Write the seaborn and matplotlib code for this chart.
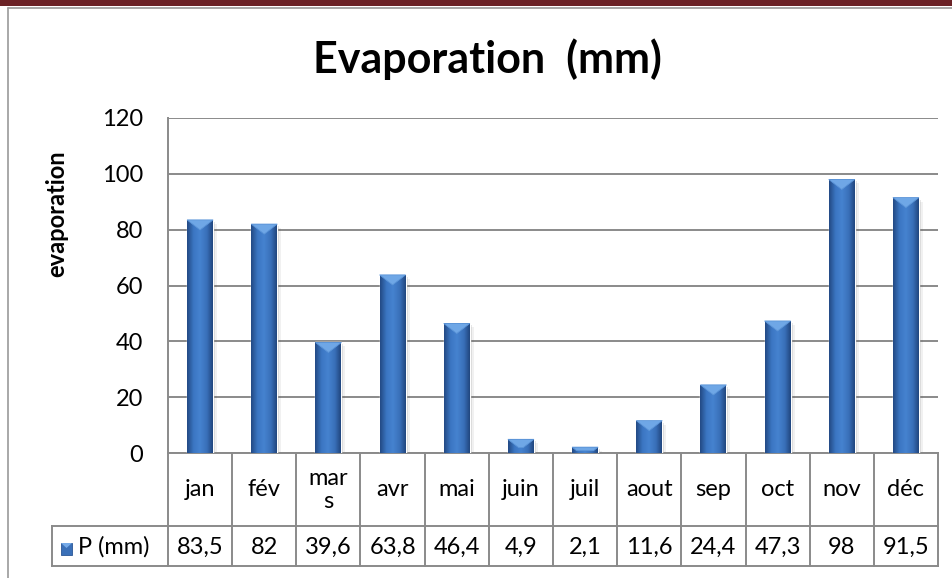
import numpy as np
import pandas as pd
import matplotlib
matplotlib.use("Agg")
import matplotlib.pyplot as plt
import matplotlib.transforms as mtransforms
from matplotlib.patches import Polygon, Rectangle
from matplotlib.colors import LinearSegmentedColormap
from matplotlib.lines import Line2D
import seaborn as sns

# ---- data -------------------------------------------------------------
months = ["jan", "fév", "mars", "avr", "mai", "juin",
          "juil", "aout", "sep", "oct", "nov", "déc"]
month_labels = ["jan", "fév", "mar\ns", "avr", "mai", "juin",
                "juil", "aout", "sep", "oct", "nov", "déc"]
evaporation = [83.5, 82, 39.6, 63.8, 46.4, 4.9, 2.1, 11.6, 24.4, 47.3, 98, 91.5]
y_ticks = [0, 20, 40, 60, 80, 100, 120]
series_name = "P (mm)"
chart_title = "Evaporation  (mm)"
y_title = "evaporation"

value_labels = [f"{v:g}".replace(".", ",") for v in evaporation]

# ---- style ------------------------------------------------------------
sns.set_theme(style="white")
plt.rcParams["font.family"] = ["Lato", "DejaVu Sans"]
plt.rcParams["text.color"] = "black"

W, H = 952, 578
AX_L, AX_R, AX_T, AX_B = 168, 938, 118, 453
AX_W, AX_H = AX_R - AX_L, AX_B - AX_T
GRID = "#8A8A8A"

fig = plt.figure(figsize=(W / 100, H / 100), dpi=100)
fig.patch.set_facecolor("white")
ax = fig.add_axes([AX_L / W, 1 - AX_B / H, AX_W / W, AX_H / H])


def ax_x(px):
    return (px - AX_L) / AX_W


def ax_y(py):
    return (AX_B - py) / AX_H


df = pd.DataFrame({"mois": months, "P": evaporation})
sns.barplot(data=df, x="mois", y="P", order=months, ax=ax, width=0.405,
            color="#3A70B8", saturation=1, zorder=3)

ax.set_ylim(0, 120)
ax.set_xlim(-0.5, len(months) - 0.5)
ax.set_yticks(y_ticks)
ax.set_xticks([])
ax.set_xlabel("")
ax.set_ylabel("")
ax.yaxis.grid(True, color=GRID, lw=1.4)
ax.set_axisbelow(True)
ax.tick_params(axis="y", length=0, pad=18, labelsize=17, labelcolor="black")
for side in ["top", "right"]:
    ax.spines[side].set_visible(False)
for side in ["left", "bottom"]:
    ax.spines[side].set_color(GRID)
    ax.spines[side].set_linewidth(1.4)

# ---- shaded bar bodies with a bevelled top ---------------------------
px_per_y = AX_H / 120.0
px_per_x = AX_W / len(months)
body = LinearSegmentedColormap.from_list(
    "body", [(0.0, "#234A84"), (0.25, "#3B76C3"), (0.5, "#4683D0"),
             (0.78, "#386FB8"), (1.0, "#21467E")])
grad = np.linspace(0, 1, 64).reshape(1, -1)
for p in list(ax.patches):
    x0, w, h = p.get_x(), p.get_width(), p.get_height()
    # soft drop shadow to the right
    for off, a in [(2, 0.16), (4, 0.07)]:
        ax.add_patch(Rectangle((x0 + off / px_per_x, 0), w, max(h - off / px_per_y, 0),
                               facecolor="#404040", edgecolor="none", alpha=a, zorder=2))
    im = ax.imshow(grad, cmap=body, extent=[x0, x0 + w, 0, h], aspect="auto",
                   interpolation="bicubic", zorder=3.5)
    im.set_clip_path(p)
    d_px = min(10.0, h * px_per_y * 0.6)
    d = d_px / px_per_y
    b = (w / 2) * d_px / 10.0
    ax.add_patch(Polygon([(x0, h), (x0 + w, h), (x0 + w - b, h - d), (x0 + b, h - d)],
                         closed=True, facecolor="#6FA7E6", edgecolor="#5C95D8",
                         lw=0.6, zorder=4))

ax.set_ylim(0, 120)
ax.set_xlim(-0.5, len(months) - 0.5)

# ---- data table under the axis ---------------------------------------
blend = mtransforms.blended_transform_factory(ax.transData, ax.transAxes)
row1 = ax_y(526)
row2 = ax_y(566)
left = ax_x(52)
line_kw = dict(color=GRID, lw=1.4, clip_on=False, solid_capstyle="projecting")
for i in range(len(months) + 1):
    xb = i - 0.5
    ax.plot([xb, xb], [0, row2], transform=blend, **line_kw)
ax.plot([left, 1], [row1, row1], transform=ax.transAxes, **line_kw)
ax.plot([left, 1], [row2, row2], transform=ax.transAxes, **line_kw)
ax.plot([left, left], [row1, row2], transform=ax.transAxes, **line_kw)

for i, (lab, val) in enumerate(zip(month_labels, value_labels)):
    ax.text(i, ax_y(490), lab, transform=blend, ha="center", va="center",
            fontsize=17, linespacing=1.15, clip_on=False)
    ax.text(i, ax_y(547), val, transform=blend, ha="center", va="center",
            fontsize=17, clip_on=False)

# legend key inside the table
ax.add_patch(Rectangle((ax_x(61), ax_y(555)), 11 / AX_W, 12 / AX_H,
                       transform=ax.transAxes, facecolor="#3A70B8",
                       edgecolor="#2A5595", lw=0.6, clip_on=False, zorder=5))
ax.add_patch(Polygon([(ax_x(61), ax_y(543)), (ax_x(72), ax_y(543)), (ax_x(66.5), ax_y(548))],
                     closed=True, transform=ax.transAxes, facecolor="#75AAE8",
                     edgecolor="none", clip_on=False, zorder=6))
ax.text(ax_x(78), ax_y(547), series_name, transform=ax.transAxes,
        ha="left", va="center", fontsize=17, clip_on=False)

# ---- titles -----------------------------------------------------------
fig.text(487 / W, 1 - 73 / H, chart_title, ha="center", va="baseline",
         fontsize=31, fontweight="bold")
fig.text(57 / W, 1 - 214 / H, y_title, rotation=90, ha="center", va="center",
         fontsize=17, fontweight="bold")

# ---- chart frame ------------------------------------------------------
fig.add_artist(Rectangle((0, 1 - 6 / H), 1, 6 / H, transform=fig.transFigure,
                         facecolor="#6B2226", edgecolor="none"))
fig.add_artist(Line2D([7.5 / W, 1], [1 - 7.5 / H, 1 - 7.5 / H],
                      transform=fig.transFigure, color="#9A9A9A", lw=1.2))
fig.add_artist(Line2D([7.5 / W, 7.5 / W], [0, 1 - 7.5 / H],
                      transform=fig.transFigure, color="#9A9A9A", lw=1.2))

fig.savefig("out.png", dpi=100, facecolor="white")
